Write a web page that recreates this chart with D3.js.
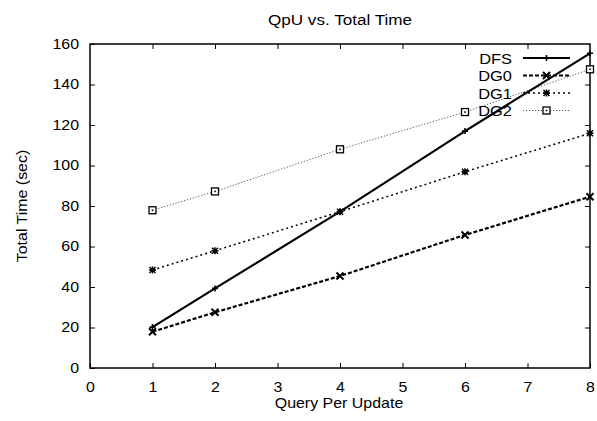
<!DOCTYPE html>
<html>
<head>
<meta charset="utf-8">
<script src="https://cdn.jsdelivr.net/npm/d3@7"></script>
<style>
  html, body { margin: 0; padding: 0; background: #fff; }
  svg { display: block; font-family: "Liberation Sans", Arial, sans-serif; }
</style>
</head>
<body>
<svg id="chart" width="597" height="421"></svg>
<script>
// Query-per-update vs. total time for each strategy
const qpu = [1, 2, 4, 6, 8];
const dfs = [20.2, 39.3, 77.2, 117.0, 155.4];
const dg0 = [17.9, 27.5, 45.4, 65.7, 84.6];
const dg1 = [48.4, 57.9, 77.2, 96.9, 115.9];
const dg2 = [77.9, 87.2, 108.0, 126.4, 147.5];
const seriesNames = ["DFS", "DG0", "DG1", "DG2"];
const xTicks = [0, 1, 2, 3, 4, 5, 6, 7, 8];
const yTicks = [0, 20, 40, 60, 80, 100, 120, 140, 160];

const svg = d3.select("#chart");
const plotLeft = 90, plotRight = 590, plotTop = 44, plotBottom = 368;
const stretch = 1.14; // wide sans rendering of the labels

const x = d3.scaleLinear().domain([0, 8]).range([plotLeft, plotRight]);
const y = d3.scaleLinear().domain([0, 160]).range([plotBottom, plotTop]);

// line / marker style per series
const styles = {
  DFS: { width: 2.2, dash: null, color: "#000", marker: "plus" },
  DG0: { width: 2.2, dash: "4,2", color: "#000", marker: "cross" },
  DG1: { width: 1.5, dash: "2,3", color: "#000", marker: "star" },
  DG2: { width: 1, dash: "1.2,1.8", color: "#555", marker: "square" }
};
const values = { DFS: dfs, DG0: dg0, DG1: dg1, DG2: dg2 };

// ticks, mirrored and pointing inward
const tickLen = 5;
const g = svg.append("g");
const bAxis = d3.axisBottom(x).tickValues(xTicks).tickSizeInner(-tickLen).tickSizeOuter(0).tickPadding(14);
const lAxis = d3.axisLeft(y).tickValues(yTicks).tickSizeInner(-tickLen).tickSizeOuter(0).tickPadding(11);
const tAxis = d3.axisTop(x).tickValues(xTicks.slice(1, -1)).tickSizeInner(-tickLen).tickSizeOuter(0).tickFormat("");
const rAxis = d3.axisRight(y).tickValues(yTicks.slice(1, -1)).tickSizeInner(-tickLen).tickSizeOuter(0).tickFormat("");

function styleAxis(sel) {
  sel.select(".domain").remove();
  sel.selectAll(".tick line").attr("stroke", "#000").attr("stroke-width", 1);
  sel.selectAll(".tick text").attr("font-size", 14).attr("fill", "#000")
     .attr("font-family", "'Liberation Sans', Arial, sans-serif")
     .each(function () {
       const t = d3.select(this);
       const tx = +(t.attr("x") || 0);
       t.attr("x", tx / stretch).attr("transform", `scale(${stretch},1)`);
     });
}
g.append("g").attr("transform", `translate(0,${plotBottom})`).call(bAxis).call(styleAxis);
g.append("g").attr("transform", `translate(${plotLeft},0)`).call(lAxis).call(styleAxis);
g.append("g").attr("transform", `translate(0,${plotTop})`).call(tAxis).call(styleAxis);
g.append("g").attr("transform", `translate(${plotRight},0)`).call(rAxis).call(styleAxis);

// frame
svg.append("rect").attr("x", plotLeft).attr("y", plotTop)
  .attr("width", plotRight - plotLeft).attr("height", plotBottom - plotTop)
  .attr("fill", "none").attr("stroke", "#000").attr("stroke-width", 1.5);

// markers
function drawMarker(sel, type, cx, cy) {
  const m = sel.append("g").attr("transform", `translate(${cx},${cy})`)
    .attr("stroke", "#000").attr("fill", "none");
  if (type === "plus") {
    m.append("path").attr("d", "M-3,0H3M0,-3V3").attr("stroke-width", 1.6);
  } else if (type === "cross") {
    m.append("path").attr("d", "M-3.5,-3.5L3.5,3.5M-3.5,3.5L3.5,-3.5").attr("stroke-width", 2);
  } else if (type === "star") {
    m.append("path").attr("d", "M-3,-3L3,3M-3,3L3,-3M-3.5,0H3.5M0,-3.5V3.5").attr("stroke-width", 1.5);
  } else if (type === "square") {
    m.append("rect").attr("x", -3.5).attr("y", -3.5).attr("width", 7).attr("height", 7)
      .attr("stroke-width", 1.3).attr("fill", "#fff");
    m.append("rect").attr("x", -0.8).attr("y", -0.8).attr("width", 1.6).attr("height", 1.6)
      .attr("fill", "#000").attr("stroke", "none");
  }
}

const line = d3.line().x((d, i) => x(qpu[i])).y(d => y(d));
const plot = svg.append("g");
// draw back to front so DFS sits on top
seriesNames.slice().reverse().forEach(name => {
  const s = styles[name];
  plot.append("path").datum(values[name]).attr("d", line)
    .attr("fill", "none").attr("stroke", s.color).attr("stroke-width", s.width)
    .attr("stroke-dasharray", s.dash);
  values[name].forEach((v, i) => drawMarker(plot, s.marker, x(qpu[i]), y(v)));
});

// text helper with horizontal stretch around its anchor
function label(px, py, str, size, anchor, sx, rotate) {
  const rot = rotate ? ` rotate(${rotate})` : "";
  return svg.append("text")
    .attr("transform", `translate(${px},${py})${rot} scale(${sx},1)`)
    .attr("text-anchor", anchor).attr("font-size", size).attr("fill", "#000").text(str);
}

// legend
const legY = [58, 75.5, 93, 110.5];
const leg = svg.append("g");
seriesNames.forEach((name, i) => {
  const s = styles[name];
  label(512, legY[i] + 5.5, name, 15.5, "end", 1.06);
  leg.append("line").attr("x1", 523).attr("x2", 570).attr("y1", legY[i]).attr("y2", legY[i])
    .attr("stroke", s.color).attr("stroke-width", s.width).attr("stroke-dasharray", s.dash);
  drawMarker(leg, s.marker, 546.5, legY[i]);
});

// title and axis labels
label(340, 25, "QpU vs. Total Time", 15, "middle", stretch);
label(339, 408, "Query Per Update", 14, "middle", stretch);
label(27, (plotTop + plotBottom) / 2, "Total Time (sec)", 14, "middle", stretch, -90);
</script>
</body>
</html>
